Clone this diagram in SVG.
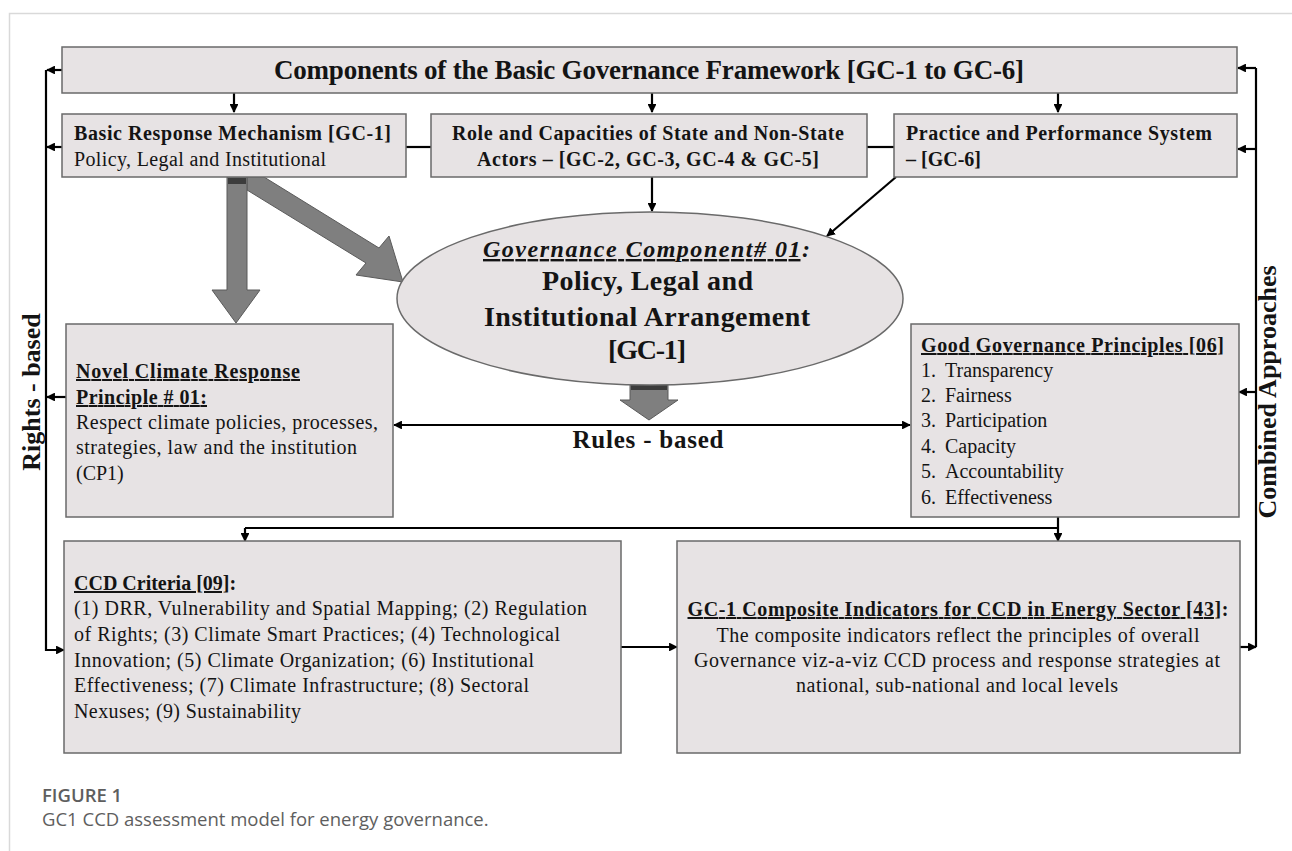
<svg xmlns="http://www.w3.org/2000/svg" width="1292" height="851" viewBox="0 0 1292 851">
<style>
.box{fill:#e7e3e4;stroke:#6a6a6a;stroke-width:1.5}
.t{font-family:"Liberation Serif","Times New Roman",serif;fill:#141414;font-size:20px}
.b{font-weight:bold}
.u{text-decoration:underline}
.ln{stroke:#000;stroke-width:2.2;fill:none}
.fat{fill:#7f7f7f;stroke:#5a5a5a;stroke-width:1}
.band{fill:#3c3c3c}
.cap{font-family:"Open Sans","Liberation Sans",sans-serif;fill:#5e5e5e}
</style>
<defs>
<marker id="ah" viewBox="0 0 10 10" refX="9" refY="5" markerWidth="4" markerHeight="4" orient="auto-start-reverse" markerUnits="strokeWidth">
<path d="M0,0 L10,5 L0,10 z" fill="#000"/>
</marker>
</defs>
<rect width="1292" height="851" fill="#fff"/>
<path d="M9.5,851 V13.5 H1292" fill="none" stroke="#d9d9d9" stroke-width="1.5"/>

<g id="fat-arrows">
<polygon class="fat" points="247,177 264,177 379,248 389,236 403,282 356,275 366,263 247,190"/>
<polygon class="fat" points="227,177 247,177 247,290 260,290 236,323 212,290 227,290"/>
<rect class="band" x="228" y="178" width="18" height="6"/>
<polygon class="fat" points="630,385 668,385 668,400 678,400 649,420 620,400 630,400"/>
<rect class="band" x="631" y="385" width="36" height="5"/>
</g>

<g id="connectors">
<line class="ln" x1="234" y1="93" x2="234" y2="112" marker-end="url(#ah)"/>
<line class="ln" x1="652" y1="93" x2="652" y2="112" marker-end="url(#ah)"/>
<line class="ln" x1="1058" y1="93" x2="1058" y2="112" marker-end="url(#ah)"/>
<line class="ln" x1="406" y1="147" x2="431" y2="147"/>
<line class="ln" x1="867" y1="147" x2="894" y2="147"/>
<line class="ln" x1="652" y1="177" x2="652" y2="211" marker-end="url(#ah)"/>
<line class="ln" x1="896" y1="177" x2="827" y2="236" marker-end="url(#ah)"/>
<line class="ln" x1="62" y1="70" x2="47" y2="70" marker-end="url(#ah)"/>
<line class="ln" x1="62" y1="147" x2="47" y2="147" marker-end="url(#ah)"/>
<line class="ln" x1="66" y1="397" x2="47" y2="397" marker-end="url(#ah)"/>
<path class="ln" d="M46,70 V650 H64" marker-end="url(#ah)"/>
<line class="ln" x1="1256" y1="68" x2="1256" y2="647"/>
<line class="ln" x1="1240" y1="647" x2="1256" y2="647" marker-end="url(#ah)"/>
<line class="ln" x1="1256" y1="68" x2="1238" y2="68" marker-end="url(#ah)"/>
<line class="ln" x1="1256" y1="149" x2="1238" y2="149" marker-end="url(#ah)"/>
<line class="ln" x1="1256" y1="392" x2="1239" y2="392" marker-end="url(#ah)"/>
<line class="ln" x1="394" y1="425" x2="910" y2="425" marker-start="url(#ah)" marker-end="url(#ah)"/>
<path class="ln" d="M245,528 H1058"/>
<line class="ln" x1="245" y1="528" x2="245" y2="541" marker-end="url(#ah)"/>
<line class="ln" x1="1058" y1="517" x2="1058" y2="541" marker-end="url(#ah)"/>
<line class="ln" x1="621" y1="647" x2="677" y2="647" marker-end="url(#ah)"/>
</g>

<g id="side-labels">
<text class="t b" transform="translate(40,392) rotate(-90)" text-anchor="middle" style="font-size:26px">Rights - based</text>
<text class="t b" transform="translate(1276,392) rotate(-90)" text-anchor="middle" style="font-size:26px">Combined Approaches</text>
<text class="t b" x="648" y="448" text-anchor="middle" style="font-size:25px" textLength="151">Rules - based</text>
</g>

<g id="gc-framework">
<rect class="box" x="62" y="47" width="1175" height="46"/>
<text class="t b" x="649" y="79" text-anchor="middle" style="font-size:27px" textLength="750">Components of the Basic Governance Framework [GC-1 to GC-6]</text>
</g>

<g id="basic-response">
<rect class="box" x="62" y="114" width="344" height="63"/>
<text class="t b" x="74" y="140" textLength="317">Basic Response Mechanism [GC-1]</text>
<text class="t" x="74" y="166" textLength="252">Policy, Legal and Institutional</text>
</g>

<g id="actors">
<rect class="box" x="431" y="114" width="436" height="63"/>
<text class="t b" x="648" y="140" text-anchor="middle" textLength="392">Role and Capacities of State and Non-State</text>
<text class="t b" x="648" y="166" text-anchor="middle" textLength="342">Actors – [GC-2, GC-3, GC-4 &amp; GC-5]</text>
</g>

<g id="practice">
<rect class="box" x="894" y="114" width="343" height="63"/>
<text class="t b" x="906" y="140" textLength="306">Practice and Performance System</text>
<text class="t b" x="906" y="166">– [GC-6]</text>
</g>

<g id="gc1-ellipse">
<ellipse cx="650" cy="298.5" rx="253" ry="86.5" fill="#e7e3e4" stroke="#6a6a6a" stroke-width="1.5"/>
<text class="t b" x="483" y="257" style="font-size:24px;font-style:italic" textLength="327"><tspan class="u">Governance Component# 01</tspan>:</text>
<text class="t b" x="542" y="290" style="font-size:28px" textLength="211">Policy, Legal and</text>
<text class="t b" x="484" y="326" style="font-size:28px" textLength="326">Institutional Arrangement</text>
<text class="t b" x="608" y="359" style="font-size:28px" textLength="78">[GC-1]</text>
</g>

<g id="novel-principle">
<rect class="box" x="66" y="324" width="327" height="193"/>
<text class="t b u" x="76" y="378" textLength="224">Novel Climate  Response</text>
<text class="t b u" x="76" y="404" textLength="131">Principle  # 01:</text>
<text class="t" x="76" y="429" textLength="302">Respect climate policies, processes,</text>
<text class="t" x="76" y="454" textLength="281">strategies, law and the institution</text>
<text class="t" x="76" y="480">(CP1)</text>
</g>

<g id="good-governance">
<rect class="box" x="911" y="324" width="328" height="193"/>
<text class="t b u" x="921" y="352" textLength="303">Good Governance Principles  [06]</text>
<text class="t" x="921" y="377">1.</text><text class="t" x="945" y="377">Transparency</text>
<text class="t" x="921" y="402">2.</text><text class="t" x="945" y="402">Fairness</text>
<text class="t" x="921" y="427">3.</text><text class="t" x="945" y="427">Participation</text>
<text class="t" x="921" y="453">4.</text><text class="t" x="945" y="453">Capacity</text>
<text class="t" x="921" y="478">5.</text><text class="t" x="945" y="478">Accountability</text>
<text class="t" x="921" y="504">6.</text><text class="t" x="945" y="504">Effectiveness</text>
</g>

<g id="ccd-criteria">
<rect class="box" x="64" y="541" width="557" height="212"/>
<text class="t b" x="74" y="590"><tspan class="u">CCD Criteria  [09]</tspan>:</text>
<text class="t" x="74" y="615" textLength="513">(1) DRR, Vulnerability and Spatial Mapping; (2) Regulation</text>
<text class="t" x="74" y="641" textLength="486">of Rights; (3) Climate Smart Practices; (4) Technological</text>
<text class="t" x="74" y="667" textLength="460">Innovation; (5) Climate Organization; (6) Institutional</text>
<text class="t" x="74" y="692" textLength="455">Effectiveness; (7) Climate Infrastructure; (8) Sectoral</text>
<text class="t" x="74" y="718" textLength="227">Nexuses; (9) Sustainability</text>
</g>

<g id="composite-indicators">
<rect class="box" x="677" y="541" width="563" height="212"/>
<text class="t b" x="958" y="616" text-anchor="middle" textLength="541"><tspan class="u">GC-1 Composite Indicators  for CCD in Energy Sector [43]</tspan>:</text>
<text class="t" x="958" y="642" text-anchor="middle" textLength="483">The composite indicators reflect the principles of overall</text>
<text class="t" x="957" y="667" text-anchor="middle" textLength="526">Governance viz-a-viz CCD process and response strategies at</text>
<text class="t" x="957" y="692" text-anchor="middle" textLength="322">national, sub-national and local levels</text>
</g>

<g id="caption">
<text class="cap" x="42" y="802" style="font-size:18.5px;font-weight:600">FIGURE 1</text>
<text class="cap" x="42" y="826" style="font-size:18.5px">GC1 CCD assessment model for energy governance.</text>
</g>
</svg>
